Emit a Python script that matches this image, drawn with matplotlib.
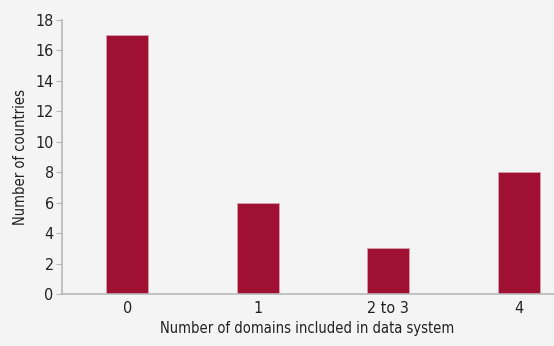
import matplotlib.pyplot as plt

categories = ['0', '1', '2 to 3', '4']
countries = [17, 6, 3, 8]
yticks = [0, 2, 4, 6, 8, 10, 12, 14, 16, 18]

plt.rcParams['font.family'] = 'DejaVu Sans'
plt.rcParams['font.stretch'] = 'condensed'

bg = '#f4f4f4'
txt = '#222222'
fig = plt.figure(figsize=(5.54, 3.46), dpi=100, facecolor=bg)
# axes runs past the right edge of the figure
ax = fig.add_axes([62/554, 52/346, 522/554, 274/346], facecolor=bg)

x = range(len(categories))
ax.bar(x, countries, width=0.32, color='#a01032', edgecolor='#d8a0ae', linewidth=0.6)

ax.set_xlim(-0.5, 3.5)
ax.set_ylim(0, 18)
ax.set_yticks(yticks)
ax.set_xticks(list(x))
ax.set_xticklabels(categories)

for s in ['top', 'right']:
    ax.spines[s].set_visible(False)
for s in ['left', 'bottom']:
    ax.spines[s].set_color('#b8b8b8')
    ax.spines[s].set_linewidth(1.2)
ax.tick_params(axis='y', length=4, color='#b8b8b8', labelsize=11.5, pad=2, labelcolor=txt)
ax.tick_params(axis='x', length=0, labelsize=11.5, pad=5, labelcolor=txt)

ax.set_ylabel('Number of countries', fontsize=10.5, color=txt, labelpad=5)
fig.text(307/554, 1 - 329/346, 'Number of domains included in data system',
         fontsize=10.5, color=txt, ha='center', va='center')

plt.savefig('out.png', dpi=100, facecolor=bg)
